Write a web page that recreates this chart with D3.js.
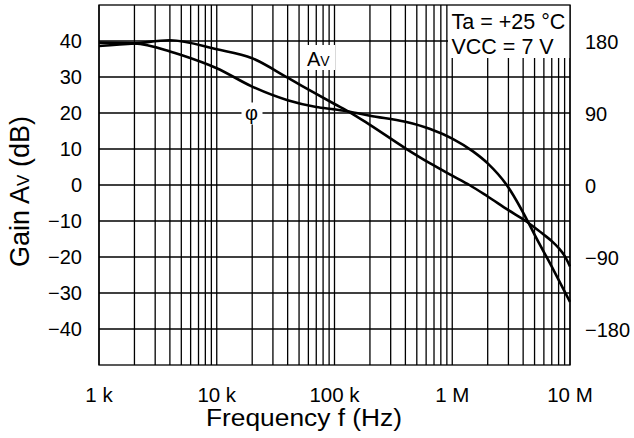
<!DOCTYPE html>
<html><head><meta charset="utf-8">
<script src="https://cdn.jsdelivr.net/npm/d3@7"></script>
<style>
html,body{margin:0;padding:0;background:#fff;}
svg text{font-family:"Liberation Sans",Arial,Helvetica,sans-serif;fill:#000;}
</style></head>
<body>
<svg id="chart" width="634" height="438"></svg>
<script>
// ---- data ----
const gainFreq  = [1e3, 2e3, 4e3, 1e4, 2e4, 4e4, 7e4, 1e5, 1.35e5, 2e5, 4e5, 6.5e5, 1e6, 1.4e6, 2e6, 3e6, 4.3e6, 5e6, 6e6, 7e6, 8e6, 9e6, 1e7];
const gainDb    = [38.6, 39.3, 40.2, 37.7, 35.2, 29.8, 25.3, 22.5, 20.2, 16.7, 10.2, 6.0, 2.6, 0, -3.2, -7.0, -10.2, -11.8, -13.8, -15.6, -17.5, -19.7, -22.6];
const phaseFreq = [1e3, 2e3, 4e3, 5e3, 1e4, 2e4, 4e4, 7e4, 1e5, 1.35e5, 2e5, 4e5, 6.5e5, 1e6, 1.5e6, 2e6, 2.9e6, 4.4e6, 5e6, 7e6, 1e7];
const phaseDeg  = [178, 177, 167, 162.5, 146, 123, 106, 97.5, 94.5, 91.6, 86.6, 79, 70, 58, 42, 27, 0, -46, -62, -102, -146];
const xTickVals = [1e3, 1e4, 1e5, 1e6, 1e7];
const xTickLabels = ["1 k", "10 k", "100 k", "1 M", "10 M"];
const gainTicks = [40, 30, 20, 10, 0, -10, -20, -30, -40];
const phaseTicks = [180, 90, 0, -90, -180];
const conditions = ["Ta = +25 °C", "VCC = 7 V"];

// ---- layout ----
const L = 99, R = 570, T = 5, B = 365;
const svg = d3.select("#chart");
const x = d3.scaleLog().domain([1e3, 1e7]).range([L, R]);
const y = d3.scaleLinear().domain([-50, 50]).range([B, T]);
const yp = d3.scaleLinear().domain([-225, 225]).range([B, T]);
const fmt = v => (v < 0 ? "\u2212" + Math.abs(v) : String(v));

// grid
const minor = [];
for (let d = 1e3; d < 1e7; d *= 10) for (let m = 1; m < 10; m++) minor.push(d * m);
minor.push(1e7);
const g = svg.append("g").attr("stroke", "#000").attr("stroke-width", 1.3);
g.selectAll("line.v").data(minor).join("line").attr("class", "v")
  .attr("x1", d => x(d)).attr("x2", d => x(d)).attr("y1", T).attr("y2", B);
g.selectAll("line.h").data(gainTicks).join("line").attr("class", "h")
  .attr("x1", L).attr("x2", R).attr("y1", d => y(d)).attr("y2", d => y(d));

// curves
const lineGain = d3.line().x((d, i) => x(gainFreq[i])).y(d => y(d)).curve(d3.curveMonotoneX);
const linePhase = d3.line().x((d, i) => x(phaseFreq[i])).y(d => yp(d)).curve(d3.curveMonotoneX);
svg.append("path").attr("d", lineGain(gainDb)).attr("fill", "none").attr("stroke", "#000").attr("stroke-width", 2.6);
svg.append("path").attr("d", linePhase(phaseDeg)).attr("fill", "none").attr("stroke", "#000").attr("stroke-width", 2.6);

// conditions box
svg.append("rect").attr("x", 448).attr("y", T).attr("width", R - 448).attr("height", 53).attr("fill", "#fff");
svg.selectAll("text.cond").data(conditions).join("text").attr("class", "cond")
  .attr("x", 451.5).attr("y", (d, i) => 28.5 + i * 25.5).attr("font-size", 21.5).text(d => d);

// curve labels
svg.append("rect").attr("x", 303).attr("y", 45).attr("width", 32).attr("height", 25).attr("fill", "#fff");
const av = svg.append("text").attr("x", 307).attr("y", 65.5).attr("font-size", 20);
av.append("tspan").text("A");
av.append("tspan").attr("font-size", 14).text("V");
svg.append("rect").attr("x", 241.5).attr("y", 102.5).attr("width", 21).attr("height", 22).attr("fill", "#fff");
svg.append("text").attr("x", 251.5).attr("y", 119.5).attr("text-anchor", "middle").attr("font-size", 20).text("\u03C6");

// plot border on top
svg.append("rect").attr("x", L).attr("y", T).attr("width", R - L).attr("height", B - T)
  .attr("fill", "none").attr("stroke", "#000").attr("stroke-width", 1.3);

// tick labels
svg.selectAll("text.yl").data(gainTicks).join("text").attr("class", "yl")
  .attr("x", 82).attr("y", d => y(d) + 7).attr("text-anchor", "end").attr("font-size", 20).text(fmt);
svg.selectAll("text.yr").data(phaseTicks).join("text").attr("class", "yr")
  .attr("x", 585).attr("y", d => yp(d) + 7.5).attr("text-anchor", "start").attr("font-size", 20).text(fmt);
svg.selectAll("text.xl").data(xTickVals).join("text").attr("class", "xl")
  .attr("x", d => x(d)).attr("y", 402).attr("text-anchor", "middle").attr("font-size", 20.5)
  .text((d, i) => xTickLabels[i]);

// axis titles
svg.append("text").attr("x", 206).attr("y", 426).attr("text-anchor", "start")
  .attr("font-size", 23.5).attr("textLength", 196).attr("lengthAdjust", "spacingAndGlyphs")
  .text("Frequency f (Hz)");
const yt = svg.append("text").attr("transform", `translate(28.5,191.5) rotate(-90)`)
  .attr("text-anchor", "middle").attr("font-size", 27);
yt.append("tspan").text("Gain A");
yt.append("tspan").attr("font-size", 17).text("V");
yt.append("tspan").text(" (dB)");
</script>
</body></html>
